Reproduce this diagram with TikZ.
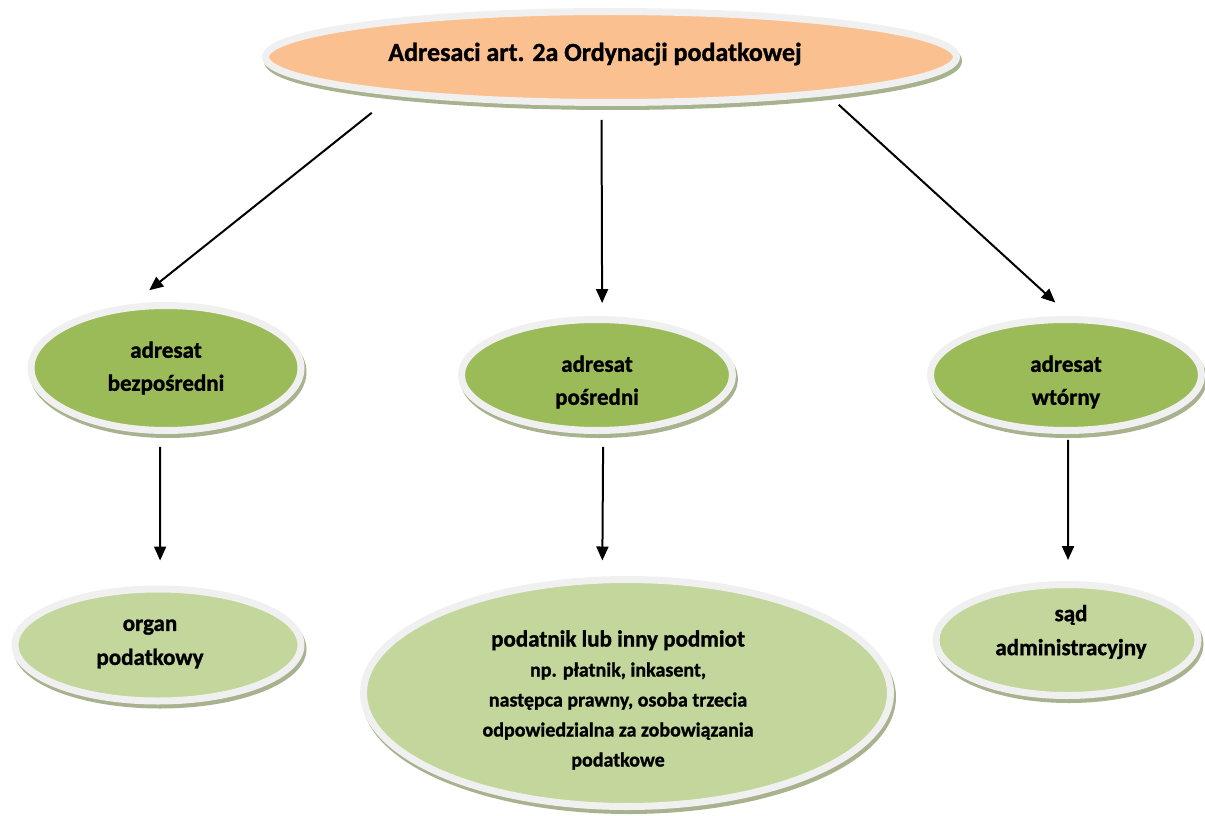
\documentclass[tikz,border=0pt]{standalone}
\usepackage{fontspec}
\setmainfont{Carlito}[BoldFeatures={FakeBold=1.2}]
\usetikzlibrary{arrows.meta, shapes.geometric, shadows}
\definecolor{topfill}{RGB}{250,192,143}
\definecolor{midgreen}{RGB}{155,187,89}
\definecolor{lightgreen}{RGB}{195,214,155}
\definecolor{rimgray}{RGB}{240,240,240}
\definecolor{shadegreen}{RGB}{168,178,142}
\tikzset{bubble/.style={ellipse, draw=rimgray, line width=7pt, fill=#1, inner sep=0pt,
    general shadow={draw=shadegreen, fill=shadegreen, line width=7pt,
      shadow xshift=2pt, shadow yshift=-4pt}},
    txt/.style={align=center, font=\bfseries\fontsize{23}{33}\selectfont},
    arr/.style={-{Triangle[length=14pt,width=12pt]}, line width=2pt}}

\begin{document}
\begin{tikzpicture}[x=1pt, y=-1pt]
        \useasboundingbox (0,0) rectangle (1205,816);
        % the ellipses
        \node[bubble=topfill, minimum width=691pt, minimum height=91pt] (top) at (611,57) {};
        \node[bubble=midgreen, minimum width=270pt, minimum height=125pt] (bez) at (166,368) {};
        \node[bubble=midgreen, minimum width=271pt, minimum height=111pt] (pos) at (597,375) {};
        \node[bubble=midgreen, minimum width=271pt, minimum height=111pt] (wto) at (1066,375) {};
        \node[bubble=lightgreen, minimum width=286pt, minimum height=112pt] (organ) at (158,645) {};
        \node[bubble=lightgreen, minimum width=527pt, minimum height=227pt] (podatnik) at (627,693) {};
        \node[bubble=lightgreen, minimum width=262pt, minimum height=111pt] (sad) at (1067,640) {};
        % the texts
        \node[txt, font=\bfseries\fontsize{26}{30}\selectfont] (top-txt) at ([xshift=-16pt,yshift=3pt]top.center) {Adresaci art. 2a Ordynacji podatkowej};
        \node[txt] (bez-txt) at (bez.center) {adresat\\ bezpośredni};
        \node[txt] (pos-txt) at ([yshift=-7pt]pos.center) {adresat\\ pośredni};
        \node[txt] (wto-txt) at ([yshift=-7pt]wto.center) {adresat\\ wtórny};
        \node[txt, font=\bfseries\fontsize{23}{34}\selectfont] (organ-txt) at ([xshift=-8pt,yshift=1pt]organ.center) {organ\\ podatkowy};
        \node[txt, font=\bfseries\fontsize{20}{30}\selectfont] (podatnik-txt) at ([yshift=-7pt,xshift=-9pt]podatnik.center)
            {{\fontsize{23}{30}\selectfont podatnik lub inny podmiot}\\ np. płatnik, inkasent,\\ następca prawny, osoba trzecia\\
             odpowiedzialna za zobowiązania\\ podatkowe};
        \node[txt, font=\bfseries\fontsize{23}{34}\selectfont] (sad-txt) at ([xshift=4pt,yshift=8pt]sad.center) {sąd\\ administracyjny};
        % the arrows
        \draw[arr, shorten <=28pt, shorten >=22pt] (top.190) -- (bez.118);
        \draw[arr, shorten <=14pt, shorten >=13pt] (top.259) -- (pos.85);
        \draw[arr, shorten <=14pt, shorten >=20pt] (top.350) -- (wto.86);
        \draw[arr, shorten <=13pt, shorten >=25pt] (bez.265) -- (organ.88);
        \draw[arr, shorten <=13pt, shorten >=16pt] (pos.276) -- (podatnik.102);
        \draw[arr, shorten <=6pt, shorten >=21pt] (wto.272) -- (sad.89);
\end{tikzpicture}
\end{document}
